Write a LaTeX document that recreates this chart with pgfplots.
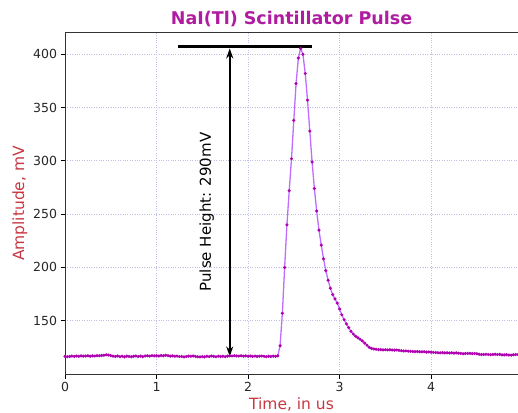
\documentclass[border=0pt]{standalone}
\usepackage{pgfplots}
\pgfplotsset{compat=1.18}
\usepackage{fontspec}
\setmainfont{DejaVu Sans}
\usetikzlibrary{arrows.meta}

\definecolor{titlec}{RGB}{176,28,160}
\definecolor{labelc}{RGB}{200,55,65}
\definecolor{linec}{RGB}{190,110,255}
\definecolor{markc}{RGB}{176,0,176}
\definecolor{gridc}{RGB}{190,190,234}

\pgfplotstableread{
t v
0.000 116.5
0.025 116.2
0.050 116.4
0.075 116.8
0.100 116.5
0.125 116.9
0.150 116.6
0.175 117.0
0.200 116.8
0.225 116.9
0.250 117.2
0.275 116.7
0.300 117.0
0.325 116.9
0.350 117.3
0.375 117.1
0.400 117.4
0.425 117.6
0.450 118.0
0.475 117.8
0.500 117.2
0.525 116.8
0.550 116.4
0.575 116.9
0.600 116.3
0.625 116.7
0.650 116.1
0.675 116.8
0.700 116.5
0.725 116.2
0.750 116.6
0.775 116.9
0.800 116.4
0.825 116.7
0.850 116.3
0.875 116.9
0.900 117.1
0.925 116.8
0.950 117.3
0.975 117.0
1.000 117.2
1.025 116.9
1.050 117.4
1.075 117.1
1.100 117.6
1.125 117.2
1.150 116.8
1.175 117.0
1.200 116.6
1.225 116.8
1.250 116.3
1.275 116.5
1.300 116.1
1.325 116.4
1.350 116.8
1.375 116.6
1.400 116.9
1.425 116.5
1.450 116.2
1.475 116.0
1.500 116.4
1.525 116.1
1.550 116.6
1.575 116.3
1.600 116.9
1.625 116.5
1.650 116.2
1.675 116.7
1.700 116.4
1.725 116.6
1.750 116.3
1.775 116.8
1.800 117.0
1.825 116.9
1.850 117.2
1.875 117.0
1.900 116.8
1.925 117.1
1.950 116.7
1.975 117.0
2.000 116.6
2.025 116.9
2.050 116.5
2.075 116.8
2.100 116.4
2.125 116.7
2.150 116.9
2.175 116.6
2.200 116.3
2.225 116.7
2.250 116.4
2.275 116.8
2.300 116.6
2.325 117.0
2.350 126.5
2.375 157.0
2.400 200.0
2.425 240.0
2.450 272.0
2.475 302.0
2.500 338.0
2.525 372.5
2.550 396.5
2.575 405.5
2.600 400.0
2.625 382.0
2.650 357.0
2.675 328.0
2.700 299.0
2.725 274.0
2.750 253.0
2.775 235.0
2.800 221.0
2.825 208.0
2.850 197.0
2.875 188.0
2.900 180.5
2.925 174.5
2.950 170.5
2.975 166.5
3.000 161.0
3.025 155.5
3.050 151.0
3.075 147.0
3.100 143.5
3.125 140.0
3.150 137.5
3.175 135.5
3.200 134.0
3.225 132.5
3.250 131.0
3.275 129.0
3.300 127.0
3.325 125.0
3.350 124.0
3.375 123.5
3.400 123.2
3.425 122.9
3.450 122.9
3.475 122.7
3.500 122.8
3.525 122.6
3.550 122.7
3.575 122.5
3.600 122.4
3.625 122.5
3.650 122.2
3.675 121.9
3.700 121.6
3.725 121.7
3.750 121.4
3.775 121.3
3.800 121.1
3.825 121.0
3.850 121.1
3.875 120.9
3.900 120.8
3.925 120.9
3.950 120.6
3.975 120.7
4.000 120.4
4.025 120.3
4.050 120.1
4.075 120.0
4.100 119.9
4.125 120.0
4.150 119.8
4.175 119.9
4.200 119.7
4.225 119.9
4.250 119.6
4.275 119.8
4.300 119.5
4.325 119.3
4.350 119.0
4.375 119.2
4.400 119.3
4.425 119.4
4.450 119.2
4.475 119.3
4.500 119.0
4.525 118.6
4.550 118.2
4.575 118.3
4.600 118.5
4.625 118.3
4.650 118.1
4.675 118.3
4.700 118.5
4.725 118.2
4.750 118.4
4.775 118.0
4.800 117.9
4.825 118.2
4.850 117.8
4.875 117.7
4.900 118.1
4.925 118.3
4.950 118.2
}\pulse

\begin{document}
\begin{tikzpicture}[x=1pt,y=1pt]
\useasboundingbox (-65,-38) rectangle (453,374);
\begin{axis}[
    at={(0,0)}, anchor=south west,
    scale only axis,
    width=453pt, height=341pt,
    xmin=0, xmax=4.95,
    ymin=100, ymax=420,
    xtick={0,1,2,3,4},
    ytick={150,200,250,300,350,400},
    tick align=outside,
    tick pos=left,
    major tick length=4.5pt,
    tick style={black, line width=0.8pt},
    axis line style={black!80, line width=1pt},
    grid=major,
    grid style={gridc, dotted, line width=0.8pt},
    ticklabel style={font=\fontsize{12.5}{14}\selectfont, black!85},
    /pgf/number format/assume math mode=true,
    xlabel={Time, in us},
    ylabel={Amplitude, mV},
    label style={font=\fontsize{15.5}{18}\selectfont, labelc},
    xlabel style={yshift=1pt},
    ylabel style={yshift=-1pt},
    title={NaI(Tl) Scintillator Pulse},
    title style={font=\bfseries\fontsize{17.5}{20}\selectfont, titlec, yshift=-3pt},
    clip=false,
]
\addplot[linec, line width=1.3pt, mark=*, mark size=0.8pt,
    mark options={markc, fill=markc, draw=markc}] table[x=t, y=v] {\pulse};
\draw[black, line width=3pt] (axis cs:1.235,407) -- (axis cs:2.70,407);
\draw[black, line width=1.6pt, {Stealth[length=10pt,width=7pt]}-{Stealth[length=10pt,width=7pt]}]
    (axis cs:1.8,116.5) -- (axis cs:1.8,405.5);
\node[rotate=90, font=\fontsize{15}{17}\selectfont, black] at (axis cs:1.55,252) {Pulse Height: 290mV};
\end{axis}
\end{tikzpicture}
\end{document}
